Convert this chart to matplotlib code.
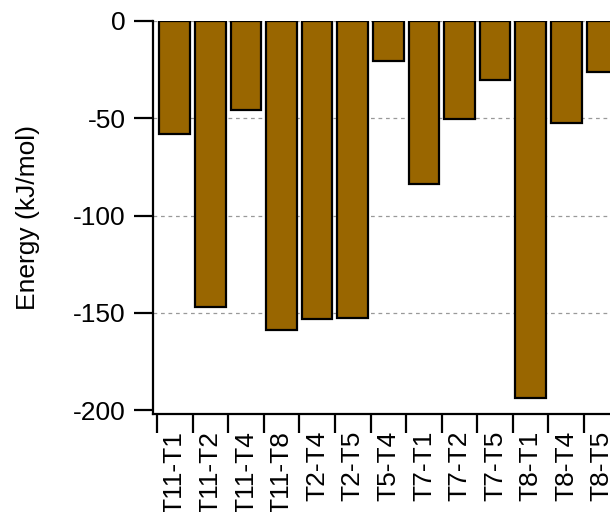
import matplotlib
matplotlib.use("Agg")
import matplotlib.pyplot as plt

plt.rcParams["font.family"] = ["Liberation Sans", "DejaVu Sans"]

PAIRS = [
    "T11-T1", "T11-T2", "T11-T4", "T11-T8", "T2-T4", "T2-T5", "T5-T4",
    "T7-T1", "T7-T2", "T7-T5", "T8-T1", "T8-T4", "T8-T5",
]
ENERGY = [-58, -147, -46, -159, -153, -152.5, -20.5, -84, -50.5, -30.5, -194, -52.5, -26]

BAR_COLOR = "#996600"


def main():
    fig = plt.figure(figsize=(6.10, 5.12), dpi=100)
    ax = fig.add_axes([153 / 610, 98 / 512, 1 - 153 / 610, 393 / 512])

    x = list(range(len(PAIRS)))
    ax.bar(x, ENERGY, width=0.86, color=BAR_COLOR, edgecolor="black", linewidth=1.6, zorder=3)

    ax.set_xlim(-0.612, 12.23)
    ax.set_ylim(-202, 0)

    for y in [0, -50, -100, -150]:
        ax.axhline(y, color="#999999", linestyle=(0, (3, 3)), linewidth=0.9, zorder=1)

    ax.set_yticks([0, -50, -100, -150, -200])
    ax.set_yticklabels(["0", "-50", "-100", "-150", "-200"])

    # category ticks sit between bars, labels at bar centres
    ax.set_xticks([i - 0.5 for i in x])
    ax.set_xticklabels([])
    ax.set_xticks(x, minor=True)
    ax.set_xticklabels(PAIRS, minor=True, rotation=90)
    ax.tick_params(axis="x", which="minor", length=0, pad=12, labelsize=19)
    ax.tick_params(axis="x", which="major", length=13.5, width=1.6, direction="out")
    ax.tick_params(axis="y", length=13.5, width=1.6, direction="out", labelsize=19, pad=6)

    for side in ["top", "right"]:
        ax.spines[side].set_visible(False)
    for side in ["left", "bottom"]:
        ax.spines[side].set_linewidth(1.6)

    ax.set_ylabel("Energy (kJ/mol)", fontsize=19, labelpad=24)

    fig.savefig("out.png", dpi=100)


if __name__ == "__main__":
    main()
